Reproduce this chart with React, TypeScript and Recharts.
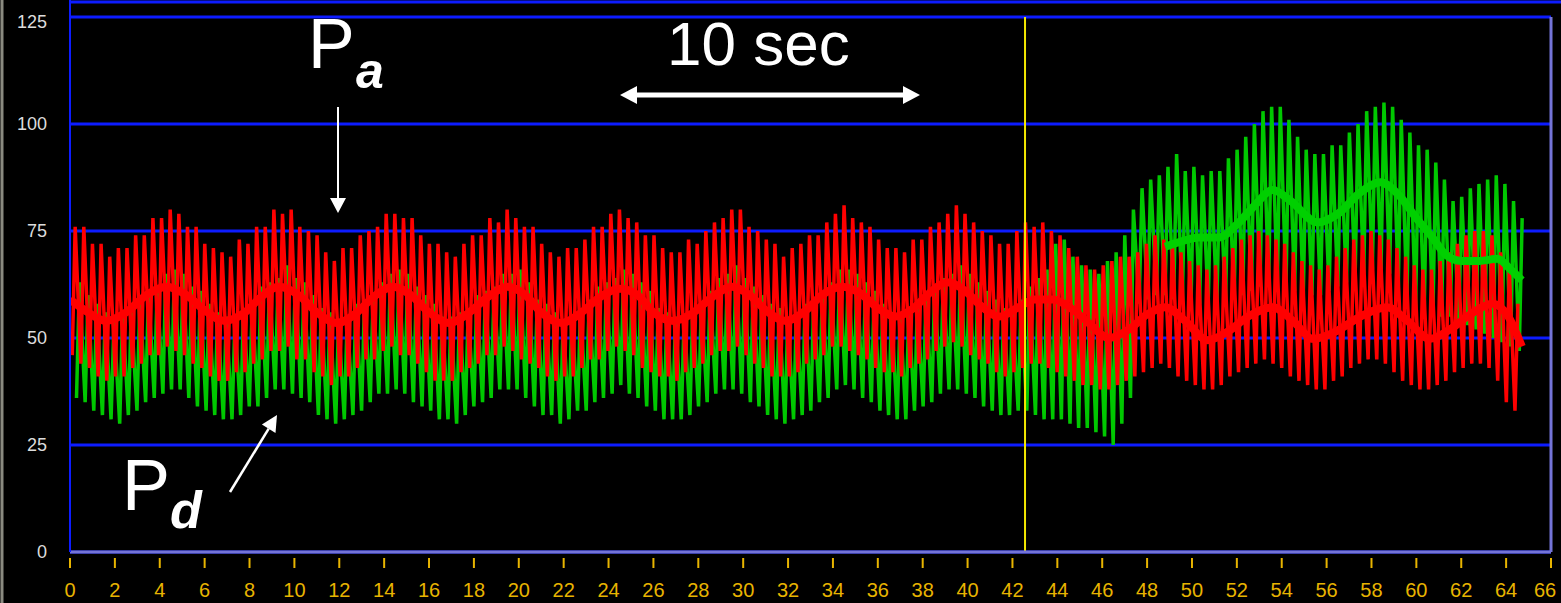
import React from 'react';
import { ComposedChart, Line, XAxis, YAxis, CartesianGrid, ReferenceLine } from 'recharts';

// beat timing of the pressure traces (x-axis units)
const BEAT_START = 0.1;
const BEAT_INTERVAL = 0.385;
const UPSTROKE = 0.13;
const PD_DELAY = 0.19;

// Pa (aortic) per-beat systolic / diastolic values
const paSystolic = [
    76, 76, 72, 72,
    69, 71, 71, 74, 74, 78, 78, 80, 79, 76, 76, 72, 71,
    70, 69, 73, 72, 76, 76, 80, 79, 80, 76, 75, 74, 70,
    68, 71, 71, 74, 75, 76, 79, 79, 78, 78, 74, 72, 72,
    70, 69, 72, 74, 74, 78, 77, 80, 78, 76, 76, 72, 70,
    69, 71, 71, 73, 76, 76, 79, 80, 78, 77, 74, 74, 71,
    70, 70, 73, 72, 75, 77, 78, 80, 80, 76, 75, 73, 72,
    69, 71, 72, 74, 74, 77, 79, 81, 78, 77, 76, 73, 71,
    71, 70, 73, 73, 76, 77, 79, 81, 79, 77, 75, 74, 72,
    72, 75, 77, 76, 77, 75, 74, 71, 69, 67, 66, 67, 68, 69, 69,
    70, 72, 74, 73, 72, 70, 68, 67, 66, 67, 69, 71, 73, 74, 75,
    74, 73, 72, 70, 68, 67, 66, 67, 69, 71, 73, 74, 75, 74, 73,
    71, 69, 67, 66, 66, 68, 70, 72, 74, 75, 75, 74, 70, 66, 58,
];
const paDiastolic = [
    46, 44, 43, 41,
    40, 41, 41, 43, 44, 46, 46, 48, 47, 46, 44, 43, 41,
    40, 40, 42, 42, 44, 45, 47, 47, 48, 45, 45, 42, 41,
    39, 41, 41, 43, 45, 45, 47, 48, 46, 46, 44, 42, 40,
    40, 40, 42, 43, 44, 46, 46, 48, 47, 45, 44, 43, 41,
    40, 41, 41, 43, 45, 45, 47, 48, 47, 46, 43, 42, 41,
    41, 40, 42, 43, 44, 46, 47, 47, 48, 46, 44, 43, 41,
    41, 41, 42, 44, 45, 46, 48, 48, 47, 46, 45, 43, 42,
    42, 41, 43, 44, 45, 47, 48, 49, 48, 46, 45, 44, 42,
    41, 42, 43, 44, 44, 43, 42, 41, 40, 39, 39, 38, 38, 39, 40,
    41, 42, 43, 44, 43, 41, 40, 39, 38, 38, 39, 41, 42, 43, 44,
    45, 44, 43, 41, 40, 39, 38, 38, 40, 41, 43, 44, 45, 45, 44,
    42, 40, 39, 38, 38, 39, 40, 42, 43, 44, 44, 43, 40, 35, 33,
];

// Pd (distal) per-beat systolic / diastolic values
const pdSystolic = [
    63, 60, 58, 56,
    54, 56, 56, 59, 61, 62, 65, 66, 65, 62, 61, 58, 56,
    55, 54, 57, 58, 62, 63, 64, 67, 64, 63, 60, 57, 56,
    54, 55, 58, 59, 60, 63, 65, 66, 65, 62, 60, 58, 55,
    55, 56, 56, 60, 61, 62, 65, 65, 66, 63, 59, 58, 56,
    54, 55, 57, 59, 62, 63, 64, 66, 65, 63, 61, 57, 56,
    55, 55, 57, 58, 61, 64, 65, 67, 64, 62, 60, 58, 57,
    55, 56, 58, 59, 61, 63, 66, 66, 65, 63, 61, 58, 56,
    56, 56, 58, 60, 62, 64, 65, 67, 65, 63, 61, 59, 57,
    57, 59, 62, 64, 66, 72, 73, 69, 67, 66, 65, 68, 70, 74, 80,
    85, 87, 88, 90, 93, 89, 90, 88, 89, 89, 92, 94, 97, 100, 103,
    104, 104, 101, 97, 94, 93, 93, 95, 95, 98, 100, 103, 104, 105, 104,
    101, 98, 95, 94, 91, 87, 82, 83, 85, 86, 87, 88, 86, 82, 78,
];
const pdDiastolic = [
    36, 35, 33, 32,
    31, 30, 32, 33, 35, 36, 37, 38, 38, 36, 34, 33, 32,
    31, 31, 32, 34, 34, 36, 38, 38, 37, 36, 35, 32, 31,
    30, 31, 32, 33, 35, 37, 37, 38, 37, 35, 34, 33, 31,
    31, 30, 32, 34, 35, 36, 38, 38, 38, 36, 34, 32, 32,
    30, 31, 33, 33, 35, 36, 37, 39, 37, 36, 34, 33, 31,
    31, 31, 32, 34, 35, 37, 38, 38, 37, 35, 34, 32, 31,
    30, 31, 32, 33, 35, 36, 38, 39, 38, 36, 35, 33, 32,
    31, 31, 33, 34, 35, 37, 38, 38, 37, 36, 34, 33, 32,
    32, 33, 33, 32, 31, 31, 31, 30, 29, 29, 28, 27, 25, 30, 36,
    58, 59, 60, 60, 59, 59, 58, 58, 58, 58, 58, 59, 60, 61, 62,
    63, 62, 62, 61, 60, 60, 60, 61, 62, 63, 64, 65, 66, 66, 65,
    62, 59, 57, 56, 55, 55, 55, 54, 53, 52, 51, 50, 49, 48, 47,
];

// mean pressure curves
const paMeanTime = [
    0, 0.8, 1.6, 2.5, 3.4, 4.3, 5.2, 6.0, 6.9, 7.8, 8.5, 9.3, 10.2, 11.0, 11.9, 12.8, 13.5, 14.4, 15.2, 16.0,
    16.9, 17.8, 18.6, 19.5, 20.3, 21.0, 21.9, 22.8, 23.6, 24.5, 25.3, 26.0, 26.9, 27.8, 28.6, 29.5, 30.3, 31.0,
    31.9, 32.8, 33.5, 34.4, 35.2, 36.0, 36.8, 37.6, 38.3, 39.1, 39.9, 40.6, 41.4, 42.2, 43.0, 43.8, 44.6, 45.4,
    46.3, 47.2, 48.0, 48.8, 49.7, 50.7, 51.6, 52.5, 53.6, 54.5, 55.4, 56.4, 57.5, 58.7, 59.6, 60.6, 61.5, 62.4,
    63.4, 64.1, 64.7,
];
const paMean = [
    59, 56, 54, 56, 60, 62, 60, 56.5, 54, 56, 59.5, 62, 60, 56, 53.5, 56, 59.5, 62, 60, 56,
    53.5, 56, 59.5, 62, 60, 56, 53.5, 56, 59.5, 61.5, 60, 56, 54, 56, 59.5, 62, 60, 56.5,
    54, 56.5, 60, 62, 60.5, 57, 55, 57, 60.5, 63, 61, 57.5, 55, 57, 59, 59, 57, 53.5,
    50, 52, 55.5, 57.2, 54, 49.5, 51.5, 55, 57.2, 54, 49.8, 51.5, 55, 57.2, 54, 49.8, 52, 55.5,
    58, 55, 48,
];
const pdMeanTime = [48.8, 49.5, 50.3, 51.2, 52.0, 52.8, 53.6, 54.4, 55.6, 56.5, 57.5, 58.4, 59.2, 60.0, 60.7, 61.3, 62.0, 62.8, 63.6, 64.2, 64.7];
const pdMean = [71.3, 72.5, 73.5, 73.5, 76.5, 81, 84.6, 82, 77, 79, 84, 86.4, 83.5, 78, 73.6, 69.5, 68, 68, 68.5, 66, 63.5];

const xTicks = [0, 2, 4, 6, 8, 10, 12, 14, 16, 18, 20, 22, 24, 26, 28, 30, 32, 34, 36, 38, 40, 42, 44, 46, 48, 50, 52, 54, 56, 58, 60, 62, 64, 66];
const yTicks = [0, 25, 50, 75, 100, 125];
const MARKER_X = 42.56;

const buildTrace = (sys: number[], dia: number[], delay: number) =>
    sys.flatMap((s, i) => {
        const t = BEAT_START + delay + i * BEAT_INTERVAL;
        return [{ t, v: dia[i] }, { t: t + UPSTROKE, v: s }];
    });

const paTrace = buildTrace(paSystolic, paDiastolic, 0);
const pdTrace = buildTrace(pdSystolic, pdDiastolic, PD_DELAY);
const paMeanData = paMeanTime.map((t, i) => ({ t, v: paMean[i] }));
const pdMeanData = pdMeanTime.map((t, i) => ({ t, v: pdMean[i] }));

const GRID_BLUE = '#0d1cff';
const FRAME = '#7474d8';
const YELLOW = '#e8b400';

const XTick = (props: any) => {
    const { x, y, payload } = props;
    const last = payload.value === 66;
    return (
        <g>
            <line x1={x} x2={x} y1={y + 6} y2={y + 16} stroke={YELLOW} strokeWidth={2} />
            <text
                x={last ? x - 6 : x}
                y={y + 45}
                textAnchor="middle"
                fill={YELLOW}
                fontSize={20}
                fontFamily="Liberation Sans"
            >
                {payload.value}
            </text>
        </g>
    );
};

const YTick = (props: any) => {
    const { x, y, payload } = props;
    return (
        <text x={x} y={Math.max(y, 22) + 6} textAnchor="end" fill="#dcdcdc" fontSize={18} fontFamily="Liberation Sans">
            {payload.value}
        </text>
    );
};

const Annotations = () => (
    <svg width={1561} height={603} style={{ position: 'absolute', left: 0, top: 0, pointerEvents: 'none' }}>
        <line x1={2} x2={2} y1={0} y2={603} stroke="#8a8a80" strokeWidth={3} />
        <line x1={70} x2={1561} y1={2} y2={2} stroke={GRID_BLUE} strokeWidth={3} />
        <line x1={70} x2={70} y1={0} y2={18} stroke={GRID_BLUE} strokeWidth={2} />

        <g fill="#ffffff" fontFamily="Liberation Sans">
            <text x={308} y={68} fontSize={70}>P</text>
            <text x={356} y={88} fontSize={50} fontWeight="bold" fontStyle="italic">a</text>
            <text x={122} y={510} fontSize={72}>P</text>
            <text x={170} y={528} fontSize={52} fontWeight="bold" fontStyle="italic">d</text>
            <text x={667} y={65} fontSize={62}>10 sec</text>
        </g>

        <line x1={338} x2={338} y1={107} y2={200} stroke="#fff" strokeWidth={2} />
        <polygon points="330,198 346,198 338,213" fill="#fff" />

        <line x1={230} x2={268.7} y1={492} y2={428.7} stroke="#fff" strokeWidth={2.5} />
        <polygon points="277,415 275.5,432.9 261.9,424.5" fill="#fff" />

        <line x1={634} x2={906} y1={95} y2={95} stroke="#fff" strokeWidth={5} />
        <polygon points="620,95 637,86 637,104" fill="#fff" />
        <polygon points="920,95 903,86 903,104" fill="#fff" />
    </svg>
);

export default function App() {
    return (
        <div style={{ position: 'relative', width: 1561, height: 603, background: '#000', overflow: 'hidden' }}>
            <style>{'body { margin: 0; background: #000; }'}</style>
            <ComposedChart width={1561} height={603} margin={{ top: 17, right: 10, left: 0, bottom: 0 }}>
                <CartesianGrid vertical={false} stroke={GRID_BLUE} strokeWidth={3} />
                <XAxis
                    dataKey="t"
                    type="number"
                    domain={[0, 66]}
                    ticks={xTicks}
                    interval={0}
                    height={51}
                    tickSize={0}
                    tickMargin={0}
                    tick={<XTick />}
                    axisLine={{ stroke: FRAME, strokeWidth: 3 }}
                    allowDataOverflow
                />
                <YAxis
                    type="number"
                    domain={[0, 125]}
                    ticks={yTicks}
                    interval={0}
                    width={70}
                    tickSize={0}
                    tickMargin={23}
                    tick={<YTick />}
                    axisLine={{ stroke: GRID_BLUE, strokeWidth: 2 }}
                />
                <ReferenceLine x={66} stroke={FRAME} strokeWidth={3} />
                <Line data={pdTrace} dataKey="v" stroke="#00c800" strokeWidth={3.5} dot={false} isAnimationActive={false} />
                <Line data={paTrace} dataKey="v" stroke="#ff0000" strokeWidth={3.5} dot={false} isAnimationActive={false} />
                <Line data={paMeanData} type="monotone" dataKey="v" stroke="#ff0000" strokeWidth={8} dot={false} isAnimationActive={false} />
                <Line data={pdMeanData} type="monotone" dataKey="v" stroke="#00d000" strokeWidth={8} dot={false} isAnimationActive={false} />
                <ReferenceLine x={MARKER_X} stroke="#f2e600" strokeWidth={2} />
            </ComposedChart>
            <Annotations />
        </div>
    );
}
